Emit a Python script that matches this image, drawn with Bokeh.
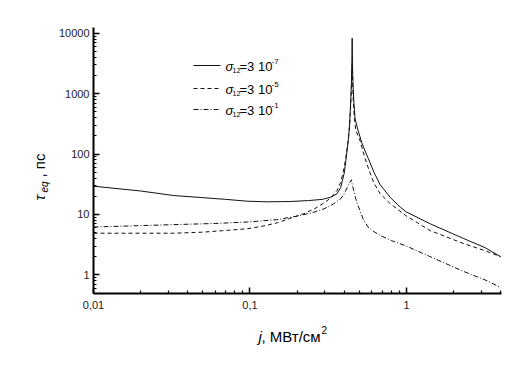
import math
from bokeh.plotting import figure
from bokeh.models import Range1d, FixedTicker, CustomJSTickFormatter, Label
from bokeh.embed import file_html
from bokeh.resources import INLINE

# ---------------- data ----------------
j_solid = [0.01, 0.02, 0.0326, 0.05, 0.07, 0.096, 0.13, 0.18, 0.237, 0.29, 0.327,
           0.36, 0.38, 0.40, 0.41, 0.425, 0.432, 0.44, 0.445, 0.448, 0.45, 0.452,
           0.455, 0.46, 0.47, 0.49, 0.52, 0.555, 0.62, 0.68, 0.79, 0.915, 1.0,
           1.42, 2.32, 3.2, 4.0]
tau_solid = [29.4, 24.5, 20.6, 19.0, 17.8, 16.6, 16.2, 16.4, 17.0, 17.8, 19.3,
             22, 28, 48, 78, 170, 277, 700, 1500, 3500, 8300, 3000,
             1600, 800, 380, 250, 150, 100, 50, 31, 19, 13.2, 11,
             7, 4, 2.8, 2.0]

j_dash = [0.01, 0.0326, 0.05, 0.067, 0.096, 0.12, 0.15, 0.18, 0.22, 0.26, 0.297,
          0.33, 0.36, 0.38, 0.40, 0.41, 0.425, 0.435, 0.442, 0.447, 0.45, 0.453,
          0.458, 0.465, 0.475, 0.49, 0.505, 0.54, 0.58, 0.62, 0.68, 0.79, 0.99,
          1.42, 2.32, 3.2, 4.0]
tau_dash = [4.9, 4.9, 5.1, 5.4, 5.8, 6.4, 7.3, 8.6, 10.3, 12.5, 15.5,
            19, 25, 34, 60, 89, 170, 350, 800, 1800, 3000, 1500,
            700, 380, 250, 200, 167, 90, 52, 33, 22, 15, 9.6,
            5.4, 3.3, 2.5, 2.0]

j_dashdot = [0.01, 0.0326, 0.06, 0.096, 0.148, 0.2, 0.25, 0.297, 0.34, 0.38, 0.40,
             0.418, 0.432, 0.445, 0.452, 0.46, 0.47, 0.485, 0.505, 0.53, 0.568,
             0.62, 0.68, 0.8, 1.0, 1.42, 2.32, 3.2, 4.0]
tau_dashdot = [6.2, 6.8, 7.1, 7.5, 8.2, 9.4, 10.7, 12.4, 14.8, 18.2, 22,
               28, 33, 37.5, 30, 25, 20, 15, 11.6, 8.3, 6.2,
               5.2, 4.5, 3.7, 3.0, 2.0, 1.14, 0.82, 0.62]

x_ticks = [0.01, 0.1, 1]
y_ticks = [1, 10, 100, 1000, 10000]
series_exponents = ["-7", "-5", "-1"]

# ---------------- geometry ----------------
# visible axis extents
X_LO, X_HI = 0.01, 4.05
Y_LO, Y_HI = 0.492, 12470
FL, FR, FT, FB = 93, 501, 27, 293   # where the axes sit in the picture
W, H = 520, 357


def px2x(px):
    lo, hi = math.log10(X_LO), math.log10(X_HI)
    return 10 ** (lo + (px - FL) / (FR - FL) * (hi - lo))


def py2y(py):
    lo, hi = math.log10(Y_LO), math.log10(Y_HI)
    return 10 ** (lo + (FB - py) / (FB - FT) * (hi - lo))


FONT = "Liberation Sans"
INK = "black"

# The frame fills the whole canvas; the axes are pinned at the data edges so
# that the axis titles (drawn as labels) stay inside the drawable area.
p = figure(width=W, height=H, x_axis_type="log", y_axis_type="log",
           x_range=Range1d(px2x(0), px2x(W)), y_range=Range1d(py2y(H), py2y(0)),
           output_backend="svg", toolbar_location=None, title=None,
           min_border_left=0, min_border_right=0,
           min_border_top=0, min_border_bottom=0)
p.outline_line_color = None
p.grid.visible = False
p.background_fill_color = "white"
p.border_fill_color = "white"

p.xaxis.fixed_location = Y_LO
p.yaxis.fixed_location = X_LO
p.xaxis.bounds = (X_LO, X_HI)
p.yaxis.bounds = (Y_LO, Y_HI)

x_minor = [m * 10 ** e for e in (-2, -1, 0) for m in range(2, 10) if m * 10 ** e <= 4.05]
y_minor = [m * 10 ** e for e in (-1, 0, 1, 2, 3) for m in range(2, 10) if 0.5 < m * 10 ** e <= 12000]

p.xaxis.ticker = FixedTicker(ticks=x_ticks, minor_ticks=x_minor)
p.yaxis.ticker = FixedTicker(ticks=y_ticks, minor_ticks=y_minor)
p.xaxis.formatter = CustomJSTickFormatter(code="""
    if (tick >= 1) { return Math.round(tick).toString(); }
    return tick.toString().replace('.', ',');
""")
p.yaxis.formatter = CustomJSTickFormatter(code="return Math.round(tick).toString();")

for ax in (p.xaxis, p.yaxis):
    ax.axis_line_width = 2
    ax.axis_line_color = INK
    ax.major_tick_in = 6
    ax.major_tick_out = 0
    ax.minor_tick_in = 3
    ax.minor_tick_out = 0
    ax.major_tick_line_width = 1.5
    ax.minor_tick_line_width = 1.2
    ax.major_tick_line_color = INK
    ax.minor_tick_line_color = INK
    ax.major_label_text_font = FONT
    ax.major_label_text_font_size = "11px"
    ax.major_label_text_color = "#222222"
p.xaxis.major_label_standoff = 7
p.yaxis.major_label_standoff = 4

# ---------------- curves ----------------
p.line(j_solid, tau_solid, line_color="#111111", line_width=1)
p.line(j_dash, tau_dash, line_color="#111111", line_width=1, line_dash="4 3")
p.line(j_dashdot, tau_dashdot, line_color="#111111", line_width=1, line_dash="5 2 1 2")


def lbl(px, py, text, size, italic=False, angle=0.0, baseline="middle"):
    return Label(x=px2x(px), y=py2y(py), text=text, text_font=FONT,
                 text_font_size=size,
                 text_font_style="italic" if italic else "normal",
                 angle=angle, text_baseline=baseline, text_color=INK)


# ---------------- legend (drawn by hand to keep sub/superscripts) ----------------
dashes = ["solid", "4 3", "5 2 1 2"]
rows = [65, 88, 109]
for dash, row, ex in zip(dashes, rows, series_exponents):
    p.line([px2x(193), px2x(220)], [py2y(row), py2y(row)], line_color="#111111",
           line_width=1, line_dash=dash)
    p.add_layout(lbl(225, row + 1, "σ", "13px", italic=True))
    p.add_layout(lbl(232, row + 5, "12", "7px"))
    p.add_layout(lbl(239, row + 1, "=3 10", "13px"))
    p.add_layout(lbl(271, row - 4, ex, "8px"))

# ---------------- axis titles ----------------
p.add_layout(lbl(258, 336, "j", "15px", italic=True, baseline="alphabetic"))
p.add_layout(lbl(261, 336, ", МВт/см", "15px", baseline="alphabetic"))
p.add_layout(lbl(321, 329, "2", "10px", baseline="alphabetic"))

ang = math.pi / 2
p.add_layout(lbl(39, 200, "τ", "15px", italic=True, angle=ang))
p.add_layout(lbl(44, 192, "eq", "10px", italic=True, angle=ang))
p.add_layout(lbl(39, 177, " , пс", "15px", angle=ang))

open("out.html", "w").write(file_html(p, INLINE))
